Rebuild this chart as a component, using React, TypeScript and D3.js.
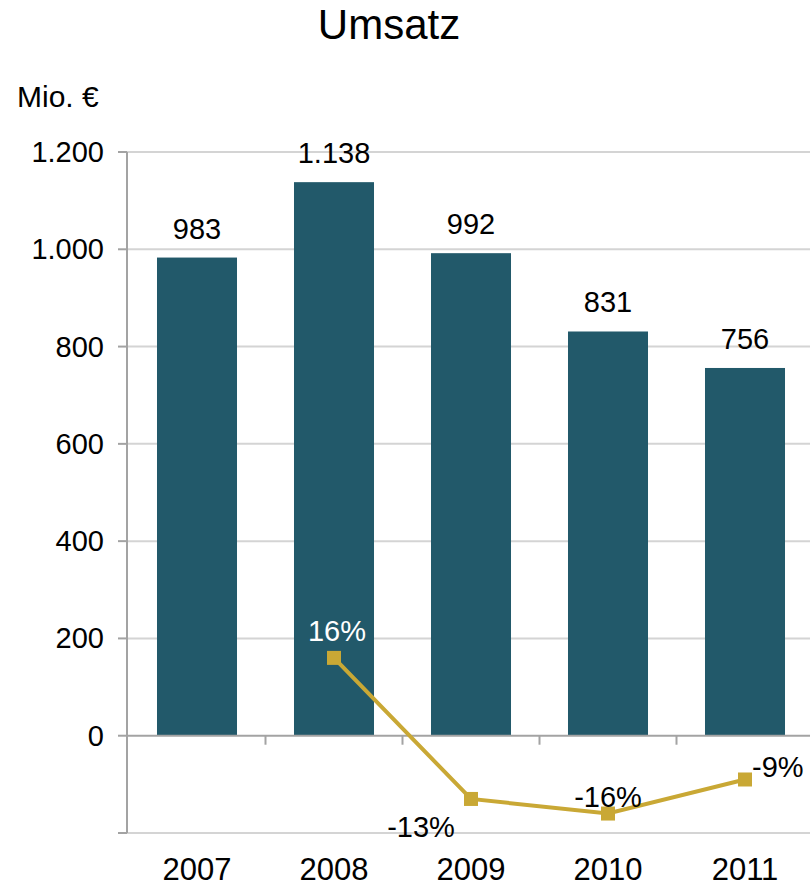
import React from "react";
import * as d3 from "d3";

const years = ["2007", "2008", "2009", "2010", "2011"];
const revenue = [983, 1138, 992, 831, 756];
const revenueLabels = ["983", "1.138", "992", "831", "756"];
const growth: (number | null)[] = [null, 16, -13, -16, -9];
const yTicks = [-200, 0, 200, 400, 600, 800, 1000, 1200];

const W = 810;
const H = 887;
const M = { left: 127, right: 812, top: 152, bottom: 833 };
const FONT = "'Liberation Sans', Arial, sans-serif";
const BAR = "#22596A";
const LINE = "#C9A835";

const fmt = (v: number) => {
  if (v < 0) return "";
  return v >= 1000 ? d3.format(",")(v).replace(",", ".") : String(v);
};

export default function App() {
  const x = d3
    .scaleBand<string>()
    .domain(years)
    .range([M.left + 1.5, M.right + 1.5])
    .paddingInner(0.416)
    .paddingOuter(0.208);
  const step = x.step();
  const y = d3.scaleLinear().domain([-200, 1200]).range([M.bottom, M.top]);
  const y2 = d3.scaleLinear().domain([-20, 120]).range([M.bottom, M.top]);
  const cx = (yr: string) => (x(yr) ?? 0) + x.bandwidth() / 2;

  const pts = years
    .map((yr, i) => ({ yr, g: growth[i] }))
    .filter((d) => d.g !== null) as { yr: string; g: number }[];
  const line = d3
    .line<{ yr: string; g: number }>()
    .x((d) => cx(d.yr))
    .y((d) => y2(d.g));

  // growth label placement relative to each marker
  const labelPos: Record<string, { dx: number; dy: number; anchor: string; fill: string }> = {
    "2008": { dx: 3, dy: -17, anchor: "middle", fill: "#ffffff" },
    "2009": { dx: -50, dy: 38, anchor: "middle", fill: "#000" },
    "2010": { dx: 0, dy: -7, anchor: "middle", fill: "#000" },
    "2011": { dx: 7, dy: -2, anchor: "start", fill: "#000" },
  };

  const boundaries = years.slice(1).map((yr) => (x(yr) ?? 0) - (step - x.bandwidth()) / 2);

  return (
    <svg width={W} height={H} style={{ position: "absolute", left: 0, top: 0, background: "#fff" }} fontFamily={FONT}>
      <text x={389} y={39} fontSize={42} textAnchor="middle" fill="#000">Umsatz</text>
      <text x={17} y={107} fontSize={30} fill="#000">Mio. €</text>

      {/* gridlines */}
      {yTicks.filter((t) => t !== 0).map((t) => (
        <line key={t} x1={M.left} x2={W} y1={y(t)} y2={y(t)} stroke="#d4d4d4" strokeWidth={2} />
      ))}

      {/* bars */}
      {years.map((yr, i) => (
        <rect key={yr} x={x(yr)} y={y(revenue[i])} width={x.bandwidth()} height={y(0) - y(revenue[i])} fill={BAR} />
      ))}

      {/* zero axis with category ticks */}
      <line x1={M.left} x2={W} y1={y(0)} y2={y(0)} stroke="#a3a3a3" strokeWidth={2} />
      {boundaries.map((bx, i) => (
        <line key={i} x1={bx} x2={bx} y1={y(0)} y2={y(0) + 9} stroke="#a3a3a3" strokeWidth={2} />
      ))}

      {/* y axis */}
      <line x1={M.left} x2={M.left} y1={M.top} y2={M.bottom} stroke="#a3a3a3" strokeWidth={2} />
      {yTicks.map((t) => (
        <g key={t}>
          <line x1={M.left - 9} x2={M.left} y1={y(t)} y2={y(t)} stroke="#a3a3a3" strokeWidth={2} />
          <text x={104} y={y(t) + 10} fontSize={29} textAnchor="end" fill="#000">{fmt(t)}</text>
        </g>
      ))}

      {/* bar value labels */}
      {years.map((yr, i) => (
        <text key={yr} x={cx(yr)} y={y(revenue[i]) - 19} fontSize={29} textAnchor="middle" fill="#000">
          {revenueLabels[i]}
        </text>
      ))}

      {/* growth line */}
      <path d={line(pts) ?? ""} fill="none" stroke={LINE} strokeWidth={4} />
      {pts.map((d) => (
        <rect key={d.yr} x={cx(d.yr) - 7} y={y2(d.g) - 7} width={14} height={14} fill={LINE} />
      ))}
      {pts.map((d) => {
        const p = labelPos[d.yr];
        return (
          <text key={d.yr} x={cx(d.yr) + p.dx} y={y2(d.g) + p.dy} fontSize={29} textAnchor={p.anchor} fill={p.fill}>
            {`${d.g}%`}
          </text>
        );
      })}

      {/* category labels */}
      {years.map((yr) => (
        <text key={yr} x={cx(yr)} y={880} fontSize={31} textAnchor="middle" fill="#000">{yr}</text>
      ))}
    </svg>
  );
}
